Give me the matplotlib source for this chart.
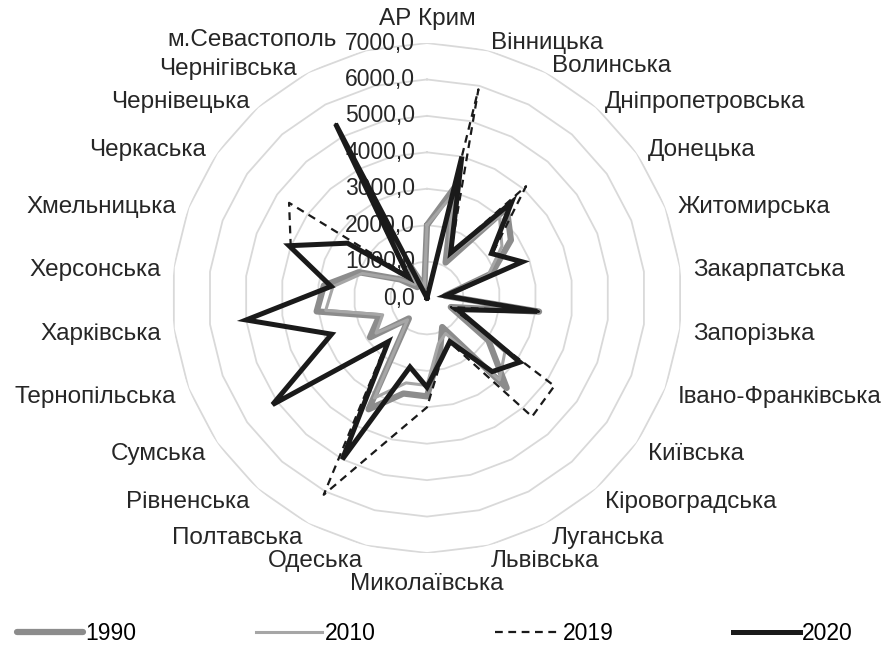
import numpy as np
import matplotlib
matplotlib.use("Agg")
import matplotlib.pyplot as plt

plt.rcParams['font.family'] = ['Liberation Sans', 'DejaVu Sans']

regions = ["АР Крим", "Вінницька", "Волинська", "Дніпропетровська", "Донецька",
           "Житомирська", "Закарпатська", "Запорізька", "Івано-Франківська",
           "Київська", "Кіровоградська", "Луганська", "Львівська", "Миколаївська",
           "Одеська", "Полтавська", "Рівненська", "Сумська", "Тернопільська",
           "Харківська", "Херсонська", "Хмельницька", "Черкаська", "Чернівецька",
           "Чернігівська", "м.Севастополь"]

y1990 = [2000, 3100, 1100, 3300, 2800, 1900, 500, 3100, 700, 2050, 3300, 900, 1500,
         2700, 2700, 3450, 750, 1900, 1400, 3050, 2850, 2000, 900, 400, 1000, 300]
y2010 = [2000, 2900, 1300, 3000, 2500, 1800, 500, 2900, 900, 2600, 3000, 1100, 1300,
         2400, 2400, 3100, 800, 1700, 1300, 2800, 2600, 1900, 900, 500, 1000, 300]
y2019 = [0, 5900, 1400, 4100, 2200, 2800, 500, 3100, 700, 4250, 4350, 1400, 1700,
         3000, 3900, 6100, 1700, 5100, 2800, 4950, 2650, 4000, 4600, 850, 5400, 0]
y2020 = [0, 4000, 1400, 3500, 2150, 2800, 500, 3050, 900, 3100, 2700, 1350, 1700,
         2450, 1950, 5000, 1600, 5150, 2800, 5000, 2650, 4050, 2650, 750, 5400, 0]

levels = [0, 1000, 2000, 3000, 4000, 5000, 6000, 7000]

fig = plt.figure(figsize=(8.91, 6.48), dpi=100)
ax = fig.add_axes([0.1930, 0.1466, 0.5724, 0.7870], projection='polar')
ax.set_theta_zero_location('N')
ax.set_theta_direction(-1)
ax.set_ylim(0, 7000)
ax.grid(False)
ax.set_xticks([])
ax.set_yticks([])
ax.spines['polar'].set_visible(False)

n = len(regions)
theta = np.arange(n) * 2 * np.pi / n
closed = np.append(theta, theta[0])

# polygon gridlines like Excel
for lv in levels[1:]:
    ax.plot(closed, [lv] * (n + 1), color='#d9d9d9', lw=1.3, zorder=0)

def close(v):
    return list(v) + [v[0]]

ax.plot(closed, close(y1990), color='#8c8c8c', lw=4.5, solid_joinstyle='round',
        solid_capstyle='round', zorder=2, label='1990')
ax.plot(closed, close(y2010), color='#a6a6a6', lw=2.2, zorder=3, label='2010')
ax.plot(closed, close(y2019), color='#1a1a1a', lw=1.6, dashes=(3.5, 2.5), zorder=4,
        label='2019')
ax.plot(closed, close(y2020), color='#1a1a1a', lw=3.6, solid_joinstyle='miter',
        zorder=5, label='2020')

# value labels along the vertical axis
for lv in levels:
    ax.annotate(f"{lv},0", xy=(0, lv), xytext=(-12, 0), textcoords='offset pixels',
                ha='right', va='center', fontsize=16.5, color='#262626', zorder=1)

# category labels
for i, (t, name) in enumerate(zip(theta, regions)):
    s, c = np.sin(t), np.cos(t)
    if abs(s) < 0.05:
        if c > 0:
            off, va = (0, 18), 'baseline'
        else:
            off, va = (0, -37), 'baseline'
        ha = 'center'
    else:
        off = (13 * s, 12 * c - 4)
        ha = 'left' if s > 0 else 'right'
        va = 'center'
    if name == "м.Севастополь":
        off = (-29, 10)
    elif name == "Чернігівська":
        off = (-12, 3)
    ax.annotate(name, xy=(t, 7000), xytext=off, textcoords='offset pixels',
                ha=ha, va=va, fontsize=17.5, color='#262626', zorder=1,
                annotation_clip=False)

fig.legend(loc='center', bbox_to_anchor=(0.488, 0.023), ncol=4, frameon=False,
           fontsize=16.5, handlelength=2.9, handletextpad=0.1, columnspacing=5.2)

fig.savefig('out.png', dpi=100)
